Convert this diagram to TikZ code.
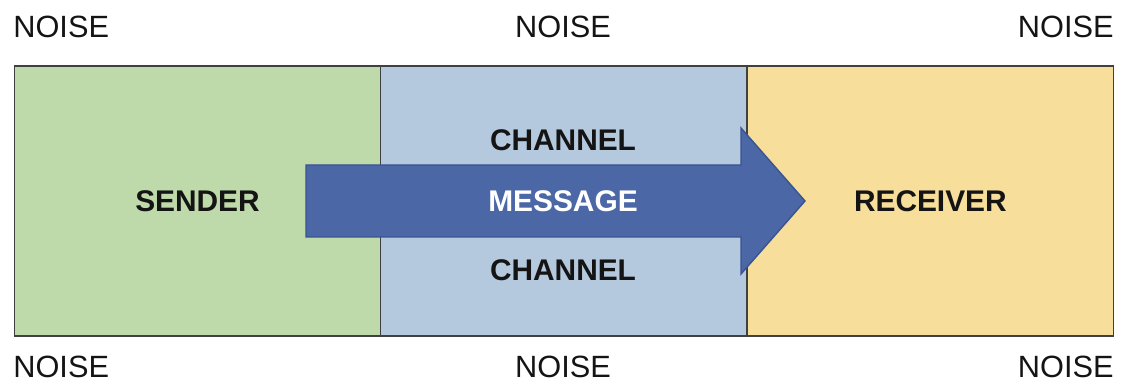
\documentclass[tikz,border=0pt]{standalone}
\usepackage{fontspec}
\setmainfont{Liberation Sans}
\usetikzlibrary{positioning}
\definecolor{sendgreen}{HTML}{BED9AA}
\definecolor{chanblue}{HTML}{B5C9DE}
\definecolor{recvyellow}{HTML}{F7DF9B}
\definecolor{msgblue}{HTML}{4C67A6}
\definecolor{msgedge}{HTML}{3A5391}
\definecolor{inkgray}{HTML}{141414}
\tikzset{part/.style={rectangle,draw=black!75,thick,outer sep=0pt,inner sep=0pt,
minimum width=7.33cm,minimum height=5.4cm,text=inkgray,
font=\fontsize{17}{20}\selectfont\bfseries},
sender/.style={part,fill=sendgreen},
channel/.style={part,fill=chanblue},
receiver/.style={part,fill=recvyellow},
noise/.style={inner sep=0pt,text=inkgray,font=\fontsize{17.5}{20}\selectfont},
lbl/.style={inner sep=0pt,text=inkgray,font=\fontsize{17}{20}\selectfont\bfseries},
msg/.style={fill=msgblue,draw=msgedge,thick,line join=miter}}

\begin{document}
\begin{tikzpicture}[x=0.02cm,y=-0.02cm]
  \useasboundingbox (0,0) rectangle (1125,391);
  \node (s) [sender] at (197.5,201) {SENDER};
  \node (c) [channel,right=0pt of s] {};
  \node (r) [receiver,right=0pt of c] {RECEIVER};
  % message arrow across the channel
  \draw [msg] (306,165) -- (741,165) -- (741,128) -- (805,201) -- (741,274)
    -- (741,237) -- (306,237) -- cycle;
  \node (m) [lbl,text=white] at (563,201) {MESSAGE};
  \node (c1) [lbl] at (563,140) {CHANNEL};
  \node (c2) [lbl] at (563,270) {CHANNEL};
  \node (n1) [noise,anchor=west] at (13,27) {NOISE};
  \node (n2) [noise] at (563,27) {NOISE};
  \node (n3) [noise,anchor=east] at (1114,27) {NOISE};
  \node (n4) [noise,anchor=west] at (13,367) {NOISE};
  \node (n5) [noise] at (563,367) {NOISE};
  \node (n6) [noise,anchor=east] at (1114,367) {NOISE};
\end{tikzpicture}
\end{document}
